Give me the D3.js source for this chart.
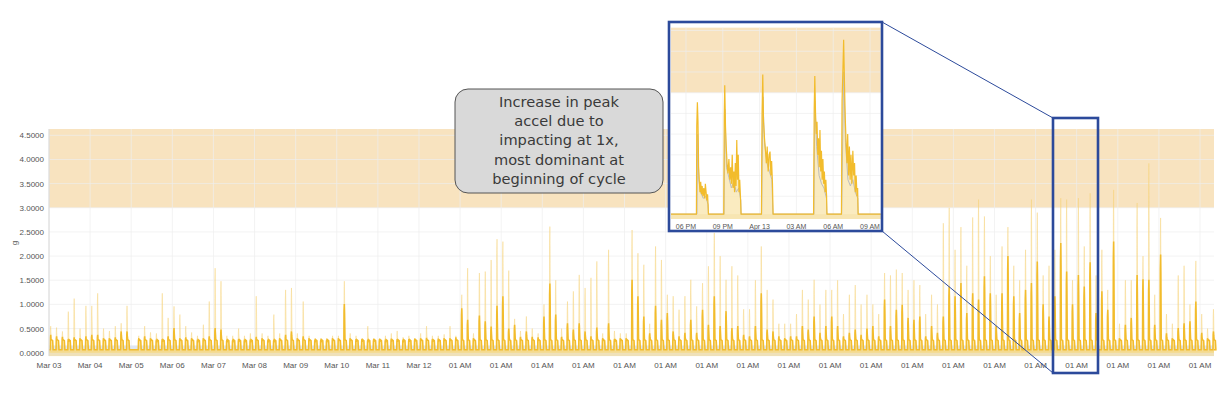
<!DOCTYPE html>
<html>
<head>
<meta charset="utf-8">
<script src="https://cdn.jsdelivr.net/npm/d3@7"></script>
<style>
  body { margin: 0; background: #fff; }
  svg { display: block; }
</style>
</head>
<body>
<div id="chart"></div>
<script>
// x tick labels, one per day
var dayLabels = ["Mar 03", "Mar 04", "Mar 05", "Mar 06", "Mar 07", "Mar 08", "Mar 09", "Mar 10", "Mar 11", "Mar 12",
    "01 AM", "01 AM", "01 AM", "01 AM", "01 AM", "01 AM", "01 AM", "01 AM", "01 AM", "01 AM",
    "01 AM", "01 AM", "01 AM", "01 AM", "01 AM", "01 AM", "01 AM", "01 AM", "01 AM"];
var yTicks = [0, 0.5, 1, 1.5, 2, 2.5, 3, 3.5, 4, 4.5];
var alarmBand = [3.0, 4.63];
var idleLevel = 0.06;
var plateauLevel = 0.27;

// solid (mean) peak of each machine cycle, grouped by day
var cyclePeak = [
    [0.37, 0.34, 0.33, 0.28, 0.32, 0.30, 0.34],
    [0.37, 0.37, 0.30, 0.30, 0.32, 0.44, 0.44],
    [0, 0.30, 0.34, 0.30, 0.27, 0.28, 0.34],
    [0.51, 0.30, 0.32, 0.30, 0.27, 0.30, 0.34],
    [0.51, 0.48, 0.27, 0.27, 0.28, 0.27, 0.27],
    [0.33, 0.30, 0.27, 0.27, 0.30, 0.37, 0.44],
    [0.30, 0.34, 0.30, 0.27, 0.27, 0.27, 0.30],
    [0.30, 1.01, 0.30, 0.28, 0.28, 0.27, 0.28],
    [0.28, 0.27, 0.29, 0.28, 0.27, 0.28, 0.29],
    [0.30, 0.31, 0.28, 0.29, 0.30, 0.30, 0.32],
    [0.92, 0.68, 0.30, 0.77, 0.65, 0.54, 0.97],
    [1.17, 0.50, 0.58, 0.33, 0.44, 0.33, 0.32],
    [0.75, 1.43, 0.79, 0.33, 0.61, 0.48, 0.61],
    [0.44, 0.34, 0.52, 0.30, 0.61, 0.28, 0.30],
    [0.30, 1.51, 1.17, 0.75, 0.40, 0.97, 0.68],
    [0.82, 0.44, 0.34, 0.41, 0.68, 0.41, 0.89],
    [0.58, 1.17, 0.55, 0.86, 0.51, 0.55, 0.37],
    [0.34, 0.55, 1.23, 0.48, 0.44, 0.34, 0.30],
    [0.34, 0.34, 0.55, 0.48, 0.75, 0.41, 0.55],
    [0.75, 0.55, 0.34, 0.41, 0.48, 0.37, 0.50],
    [0.55, 0.34, 1.10, 0.55, 0.89, 0.99, 0.72],
    [0.68, 0.75, 0.34, 0.55, 0.41, 0.75, 1.37],
    [1.17, 1.44, 0.82, 1.23, 1.10, 1.58, 1.23],
    [0.55, 1.23, 2.00, 1.17, 0.82, 1.30, 1.44],
    [1.89, 1.00, 0.75, 1.17, 2.27, 1.68, 1.00],
    [1.61, 1.37, 1.87, 0.82, 1.27, 0.89, 2.30],
    [0.30, 0.58, 0.72, 1.61, 1.52, 1.51, 0.58],
    [2.03, 0.40, 0.30, 0.51, 0.61, 0.65, 1.06],
    [0.41, 0.30, 0.44]
];
// faint (max) peak of each cycle
var cycleMax = [
    [0.55, 0.52, 0.44, 0.85, 1.12, 0.50, 0.97],
    [0.97, 1.23, 0.50, 0.45, 0.55, 0.61, 0.97],
    [0, 0.35, 0.55, 0.42, 0.40, 1.23, 0.72],
    [0.96, 0.79, 0.55, 0.42, 0.35, 0.58, 1.06],
    [1.75, 1.48, 0.35, 0.35, 0.50, 0.35, 0.40],
    [1.17, 0.40, 0.35, 0.79, 0.40, 1.30, 1.34],
    [0.40, 1.06, 0.35, 0.30, 0.30, 0.30, 0.35],
    [0.35, 1.48, 0.40, 0.35, 0.30, 0.55, 0.30],
    [0.30, 0.35, 0.40, 0.45, 0.32, 0.35, 0.30],
    [0.40, 0.55, 0.35, 0.35, 0.38, 0.55, 0.35],
    [1.20, 1.75, 0.40, 1.65, 1.68, 1.92, 2.35],
    [2.30, 1.70, 0.70, 0.45, 0.75, 0.50, 0.40],
    [1.00, 2.61, 1.50, 0.50, 1.06, 1.27, 1.61],
    [1.34, 1.55, 1.89, 0.40, 2.13, 0.45, 0.40],
    [0.40, 2.54, 2.06, 1.82, 0.60, 2.20, 1.92],
    [1.20, 1.17, 0.89, 1.17, 1.51, 0.96, 1.44],
    [1.79, 2.48, 2.00, 1.51, 1.79, 1.60, 0.90],
    [0.90, 1.50, 2.20, 1.30, 1.10, 0.60, 0.60],
    [0.60, 0.80, 1.30, 1.10, 1.51, 1.00, 1.30],
    [1.30, 1.50, 0.80, 1.20, 1.40, 1.00, 1.20],
    [1.00, 0.80, 1.65, 1.60, 1.72, 1.65, 1.30],
    [1.50, 1.40, 0.80, 1.20, 1.00, 2.68, 3.00],
    [2.13, 2.60, 1.80, 2.80, 3.17, 2.82, 2.00],
    [1.20, 2.20, 2.60, 1.80, 1.50, 2.13, 3.17],
    [2.90, 1.60, 1.80, 2.13, 3.20, 3.17, 1.50],
    [3.20, 2.20, 3.30, 1.60, 2.13, 1.30, 3.37],
    [0.60, 1.50, 1.50, 3.10, 2.00, 3.92, 1.20],
    [2.79, 0.80, 0.60, 1.60, 1.80, 1.00, 1.90],
    [0.80, 0.50, 0.90]
];

// zoomed inset: hours after 06 PM on Apr 12, accel in g
var insetLabels = ["06 PM", "09 PM", "Apr 13", "03 AM", "06 AM", "09 AM"];
var insetTickHours = [0, 3, 6, 9, 12, 15];
var insetPeak = [
    [-1.22, 0.07], [0.85, 0.07], [0.88, 2.2], [0.93, 2.77], [0.98, 2.3], [1.03, 1.2], [1.08, 0.9], [1.14, 0.6],
    [1.2, 0.85], [1.26, 0.55], [1.32, 0.75], [1.38, 0.5], [1.45, 0.7], [1.52, 0.45], [1.58, 0.8], [1.64, 0.6],
    [1.7, 0.4], [1.76, 0.55], [1.8, 0.3], [1.83, 0.07],
    [3.08, 0.07], [3.12, 2.4], [3.16, 3.18], [3.22, 2.2], [3.28, 1.7], [3.35, 1.3], [3.42, 1.05], [3.5, 1.4],
    [3.57, 0.9], [3.64, 1.2], [3.7, 0.8], [3.77, 1.5], [3.84, 0.7], [3.9, 1.1], [3.96, 0.6], [4.02, 1.3],
    [4.08, 0.75], [4.14, 1.86], [4.2, 0.9], [4.26, 1.5], [4.32, 0.6], [4.38, 0.9], [4.44, 0.5], [4.49, 0.07],
    [6.15, 0.07], [6.2, 2.5], [6.26, 3.44], [6.32, 2.3], [6.4, 1.9], [6.48, 1.6], [6.55, 1.3], [6.62, 1.7],
    [6.7, 1.1], [6.78, 1.5], [6.85, 1.58], [6.92, 1.0], [6.98, 1.35], [7.05, 0.8], [7.1, 0.07],
    [10.4, 0.07], [10.45, 2.6], [10.5, 3.4], [10.56, 2.5], [10.62, 2.0], [10.68, 2.3], [10.74, 1.5], [10.8, 1.9],
    [10.86, 1.2], [10.92, 2.1], [10.98, 1.1], [11.04, 1.6], [11.1, 0.9], [11.16, 1.4], [11.22, 0.8], [11.28, 1.1],
    [11.34, 0.6], [11.4, 0.9], [11.46, 0.5], [11.49, 0.07],
    [12.67, 0.07], [12.72, 2.8], [12.78, 3.43], [12.85, 4.28], [12.92, 3.2], [12.98, 2.4], [13.05, 1.8], [13.12, 1.3],
    [13.18, 2.0], [13.25, 1.0], [13.32, 1.7], [13.38, 0.9], [13.45, 1.5], [13.52, 0.8], [13.6, 1.6], [13.67, 1.0],
    [13.74, 1.3], [13.8, 0.6], [13.87, 1.0], [13.94, 0.5], [13.99, 0.7], [14.03, 0.07], [15.87, 0.07]
];
var insetMean = [
    [-1.22, 0.07], [0.9, 0.07], [0.95, 2.0], [1.05, 0.9], [1.2, 0.6], [1.4, 0.45], [1.6, 0.5], [1.8, 0.3], [1.83, 0.07],
    [3.1, 0.07], [3.17, 2.6], [3.3, 1.2], [3.5, 0.95], [3.7, 0.7], [3.9, 0.85], [4.1, 0.6], [4.3, 0.7], [4.47, 0.4], [4.49, 0.07],
    [6.17, 0.07], [6.27, 2.9], [6.4, 1.8], [6.6, 1.3], [6.8, 1.1], [7.0, 0.9], [7.09, 0.07],
    [10.43, 0.07], [10.5, 2.8], [10.65, 1.7], [10.85, 1.0], [11.05, 0.8], [11.25, 0.7], [11.45, 0.45], [11.48, 0.07],
    [12.69, 0.07], [12.85, 3.5], [13.0, 1.8], [13.2, 0.9], [13.4, 0.75], [13.6, 0.9], [13.8, 0.6], [14.0, 0.45], [14.03, 0.07],
    [15.87, 0.07]
];

var calloutLines = ["Increase in peak", "accel due to", "impacting at 1x,", "most dominant at", "beginning of cycle"];

var bandColor = "#f8e3bf";
var lineColor = "#f2bc2c";
var boxBlue = "#2c4a9b";
var gridColor = "#eeeeee";

var svg = d3.select("#chart").append("svg")
        .attr("width", 1231)
        .attr("height", 395)
        .style("font-family", "'Liberation Sans', Arial, sans-serif");

var x = d3.scaleLinear().domain([0, 28.34]).range([49, 1214]);
var y = d3.scaleLinear().domain([0, 4.5]).range([352.7, 135.3]);

// turn the cycle peaks into a time series (one cycle per slot of a day)
function buildSeries(peaks)
{
    var pts = [[0, idleLevel]];
    peaks.forEach(function (day, d) {
        var slot = 1 / 7;
        day.forEach(function (p, i) {
            if (p <= 0) return;
            var mean = cyclePeak[d][i];
            var plat = Math.min(mean, plateauLevel);
            var t0 = d + (i + 0.2) * slot;
            pts.push([t0, idleLevel]);
            pts.push([t0 + 0.04 * slot, p * 0.85]);
            pts.push([t0 + 0.09 * slot, p]);
            pts.push([t0 + 0.13 * slot, p * 0.8]);
            pts.push([t0 + 0.2 * slot, plat]);
            pts.push([t0 + 0.42 * slot, plat * 0.92]);
            pts.push([t0 + 0.5 * slot, idleLevel]);
        });
    });
    pts.push([28.34, idleLevel]);
    return pts;
}
var meanSeries = buildSeries(cyclePeak);
var maxSeries = buildSeries(cycleMax);

var g = svg.append("g");

// alarm band
g.append("rect")
        .attr("x", x(0)).attr("width", x(28.34) - x(0))
        .attr("y", y(alarmBand[1])).attr("height", y(alarmBand[0]) - y(alarmBand[1]))
        .attr("fill", bandColor);

// grid
g.selectAll(".hgrid").data(yTicks).enter().append("line")
        .attr("x1", x(0)).attr("x2", x(28.34))
        .attr("y1", function (d) { return y(d); }).attr("y2", function (d) { return y(d); })
        .attr("stroke", gridColor).attr("stroke-opacity", 0.7);
g.selectAll(".vgrid").data(dayLabels).enter().append("line")
        .attr("x1", function (d, i) { return x(i); }).attr("x2", function (d, i) { return x(i); })
        .attr("y1", y(alarmBand[1])).attr("y2", y(-0.07))
        .attr("stroke", gridColor).attr("stroke-opacity", 0.7);

// idle band strips along zero
g.append("rect")
        .attr("x", x(0)).attr("width", x(28.34) - x(0))
        .attr("y", y(0.15)).attr("height", y(0.04) - y(0.15))
        .attr("fill", "#dfe6f0");
g.append("rect")
        .attr("x", x(0)).attr("width", x(28.34) - x(0))
        .attr("y", y(0.04)).attr("height", y(-0.07) - y(0.04))
        .attr("fill", "#efe1b9");

var area = d3.area().x(function (d) { return x(d[0]); })
        .y0(y(0)).y1(function (d) { return y(d[1]); });
var line = d3.line().x(function (d) { return x(d[0]); })
        .y(function (d) { return y(d[1]); });

g.append("path").datum(maxSeries).attr("d", area)
        .attr("fill", "#fbe3a0").attr("fill-opacity", 0.5);
g.append("path").datum(maxSeries).attr("d", line)
        .attr("fill", "none").attr("stroke", "#f7d37a").attr("stroke-opacity", 0.5).attr("stroke-width", 0.9);
g.append("path").datum(meanSeries).attr("d", area)
        .attr("fill", "#f6cf5e").attr("fill-opacity", 0.4);
g.append("path").datum(meanSeries).attr("d", line)
        .attr("fill", "none").attr("stroke", lineColor).attr("stroke-width", 1.5);

// axes
g.append("line").attr("x1", x(0)).attr("x2", x(0))
        .attr("y1", y(alarmBand[1])).attr("y2", y(-0.07))
        .attr("stroke", "#d8d8d8");
g.selectAll(".ylab").data(yTicks).enter().append("text")
        .attr("x", 44).attr("y", function (d) { return y(d) + 3; })
        .attr("text-anchor", "end").attr("font-size", 8).attr("fill", "#555")
        .text(function (d) { return d.toFixed(4); });
g.selectAll(".xlab").data(dayLabels).enter().append("text")
        .attr("x", function (d, i) { return x(i); }).attr("y", 368)
        .attr("text-anchor", "middle").attr("font-size", 8).attr("fill", "#555")
        .text(function (d) { return d; });
g.append("text").attr("transform", "translate(17,243) rotate(-90)")
        .attr("text-anchor", "middle").attr("font-size", 8).attr("fill", "#555").text("g");

// zoom box on main chart and connector lines
svg.append("line").attr("x1", 882).attr("y1", 22).attr("x2", 1053).attr("y2", 118)
        .attr("stroke", boxBlue).attr("stroke-width", 1);
svg.append("line").attr("x1", 882).attr("y1", 231).attr("x2", 1053).attr("y2", 373)
        .attr("stroke", boxBlue).attr("stroke-width", 1);
svg.append("rect").attr("x", 1053).attr("y", 118).attr("width", 45).attr("height", 255)
        .attr("fill", "none").attr("stroke", boxBlue).attr("stroke-width", 2.6);

// inset
var ix = d3.scaleLinear().domain([-1.22, 15.87]).range([671, 880.7]);
var iy = d3.scaleLinear().domain([0, 3]).range([217, 92.7]);
var inset = svg.append("g");
inset.append("rect").attr("x", 669).attr("y", 22).attr("width", 213).attr("height", 209).attr("fill", "#fff");
inset.append("rect")
        .attr("x", ix(-1.22)).attr("width", ix(15.87) - ix(-1.22))
        .attr("y", iy(4.57)).attr("height", iy(3) - iy(4.57))
        .attr("fill", bandColor);
inset.selectAll(".ih").data(yTicks).enter().append("line")
        .attr("x1", ix(-1.22)).attr("x2", ix(15.87))
        .attr("y1", function (d) { return iy(d); }).attr("y2", function (d) { return iy(d); })
        .attr("stroke", gridColor).attr("stroke-opacity", 0.7);
inset.selectAll(".iv").data(insetTickHours).enter().append("line")
        .attr("x1", function (d) { return ix(d); }).attr("x2", function (d) { return ix(d); })
        .attr("y1", iy(4.57)).attr("y2", 219)
        .attr("stroke", gridColor).attr("stroke-opacity", 0.7);
inset.append("rect")
        .attr("x", ix(-1.22)).attr("width", ix(15.87) - ix(-1.22))
        .attr("y", iy(0.07)).attr("height", 219 - iy(0.07))
        .attr("fill", "#efe1b9");

var iarea = d3.area().x(function (d) { return ix(d[0]); })
        .y0(219).y1(function (d) { return iy(d[1]); });
var iline = d3.line().x(function (d) { return ix(d[0]); })
        .y(function (d) { return iy(d[1]); });
inset.append("path").datum(insetPeak).attr("d", iarea)
        .attr("fill", "#f9e6b0").attr("fill-opacity", 0.8);
inset.append("path").datum(insetMean).attr("d", iline)
        .attr("fill", "none").attr("stroke", "#bdbdbd").attr("stroke-width", 1);
inset.append("path").datum(insetPeak).attr("d", iline)
        .attr("fill", "none").attr("stroke", lineColor).attr("stroke-width", 1.2);
inset.selectAll(".ilab").data(insetLabels).enter().append("text")
        .attr("x", function (d, i) { return ix(insetTickHours[i]); }).attr("y", 228.5)
        .attr("text-anchor", "middle").attr("font-size", 7).attr("fill", "#555")
        .text(function (d) { return d; });
inset.append("rect").attr("x", 669).attr("y", 22).attr("width", 213).attr("height", 209)
        .attr("fill", "none").attr("stroke", boxBlue).attr("stroke-width", 2.6);

// callout
var callout = svg.append("g");
callout.append("rect").attr("x", 455).attr("y", 89).attr("width", 208).attr("height", 104)
        .attr("rx", 13).attr("ry", 13)
        .attr("fill", "#d9d9d9").attr("stroke", "#555").attr("stroke-width", 1);
callout.selectAll("text").data(calloutLines).enter().append("text")
        .attr("x", 559).attr("y", function (d, i) { return 107 + i * 19.2; })
        .attr("text-anchor", "middle")
        .style("font-family", "'DejaVu Sans', sans-serif").attr("font-size", 14.6).attr("fill", "#3a3a3a")
        .text(function (d) { return d; });
</script>
</body>
</html>
